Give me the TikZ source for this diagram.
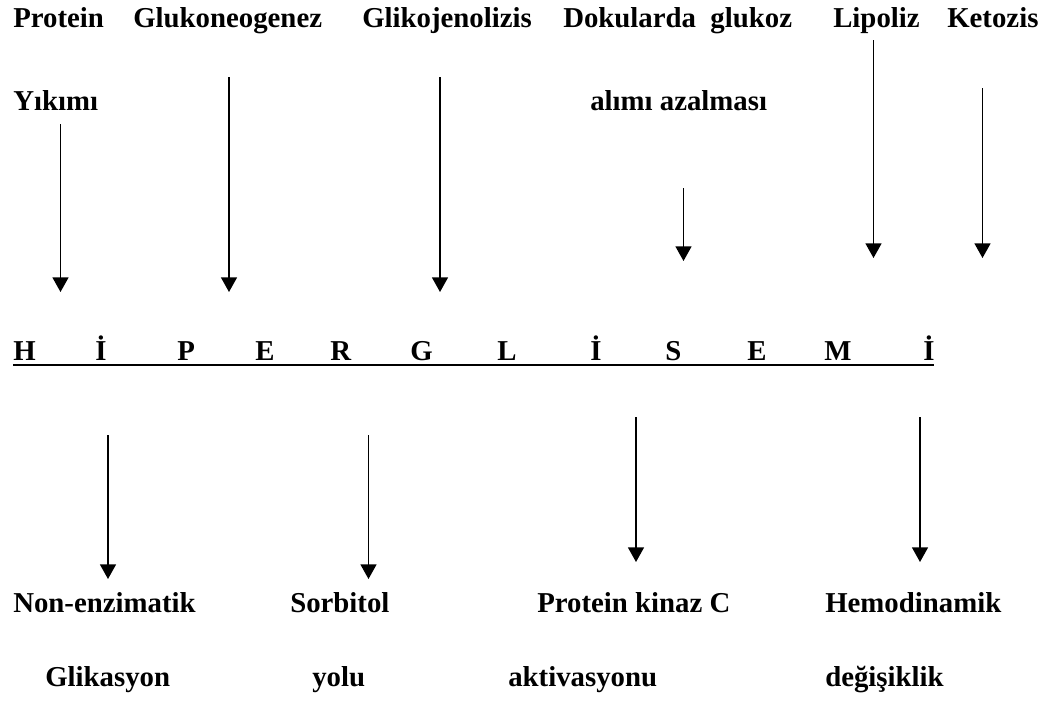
\documentclass[tikz,border=0pt]{standalone}
\usepackage{fontspec}
\setmainfont{Liberation Serif}[
  UprightFont = *,
  BoldFont = * Bold,
  ItalicFont = * Italic,
  BoldItalicFont = * Bold Italic]
\usetikzlibrary{arrows.meta}
\tikzset{
  lbl/.style={anchor=base west, inner sep=0pt, font=\fontsize{21.6}{26}\selectfont\bfseries},
  flow/.style={line width=1.1pt, -{Triangle[width=12pt,length=11pt]}},
  rule/.style={line width=1.6pt}
}
\begin{document}
\begin{tikzpicture}[x=0.75pt, y=-0.75pt]
\useasboundingbox (0,0) rectangle (1060,707);

% causes, first line
\node[lbl] (prot)  at (13,27)  {Protein};
\node[lbl] (gng)   at (133,27) {Glukoneogenez};
\node[lbl] (glk)   at (362,27) {Glikojenolizis};
\node[lbl] (dok)   at (563,27) {Dokularda\ \ glukoz};
\node[lbl] (lip)   at (833,27) {Lipoliz};
\node[lbl] (ket)   at (947,27) {Ketozis};
% causes, second line
\node[lbl] (yik)   at (13,110)  {Yıkımı};
\node[lbl] (alim)  at (590,110) {alımı azalması};

% the central word, letter by letter
\node[lbl] (h1)  at (13,360)  {H};
\node[lbl] (h2)  at (95,360)  {İ};
\node[lbl] (h3)  at (177,360) {P};
\node[lbl] (h4)  at (255,360) {E};
\node[lbl] (h5)  at (330,360) {R};
\node[lbl] (h6)  at (410,360) {G};
\node[lbl] (h7)  at (497,360) {L};
\node[lbl] (h8)  at (590,360) {İ};
\node[lbl] (h9)  at (665,360) {S};
\node[lbl] (h10) at (747,360) {E};
\node[lbl] (h11) at (824,360) {M};
\node[lbl] (h12) at (923,360) {İ};
\coordinate (ulA) at (13,365);
\coordinate (ulB) at (934,365);
\draw[rule] (ulA) -- (ulB);

% consequences
\node[lbl] (nonenz) at (13,612)  {Non-enzimatik};
\node[lbl] (sorb)   at (290,612) {Sorbitol};
\node[lbl] (pkc)    at (537,612) {Protein kinaz C};
\node[lbl] (hemo)   at (825,612) {Hemodinamik};
\node[lbl] (glik)   at (45,686)  {Glikasyon};
\node[lbl] (yolu)   at (312,686) {yolu};
\node[lbl] (akt)    at (508,686) {aktivasyonu};
\node[lbl] (degis)  at (825,686) {değişiklik};

% arrows into the central word
\coordinate (a1s) at (60.5,124);  \coordinate (a1e) at (60.5,292);
\coordinate (a2s) at (229,77);    \coordinate (a2e) at (229,292);
\coordinate (a3s) at (440,77);    \coordinate (a3e) at (440,292);
\coordinate (a4s) at (683.5,188); \coordinate (a4e) at (683.5,261);
\coordinate (a5s) at (873.5,40);  \coordinate (a5e) at (873.5,258);
\coordinate (a6s) at (982.5,88);  \coordinate (a6e) at (982.5,258);
\foreach \i in {1,...,6} \draw[flow] (a\i s) -- (a\i e);

% arrows out of the central word
\coordinate (b1s) at (108,435); \coordinate (b1e) at (108,579);
\coordinate (b2s) at (368.5,435); \coordinate (b2e) at (368.5,579);
\coordinate (b3s) at (636,417); \coordinate (b3e) at (636,562);
\coordinate (b4s) at (920,417); \coordinate (b4e) at (920,562);
\foreach \i in {1,...,4} \draw[flow] (b\i s) -- (b\i e);
\end{tikzpicture}
\end{document}
